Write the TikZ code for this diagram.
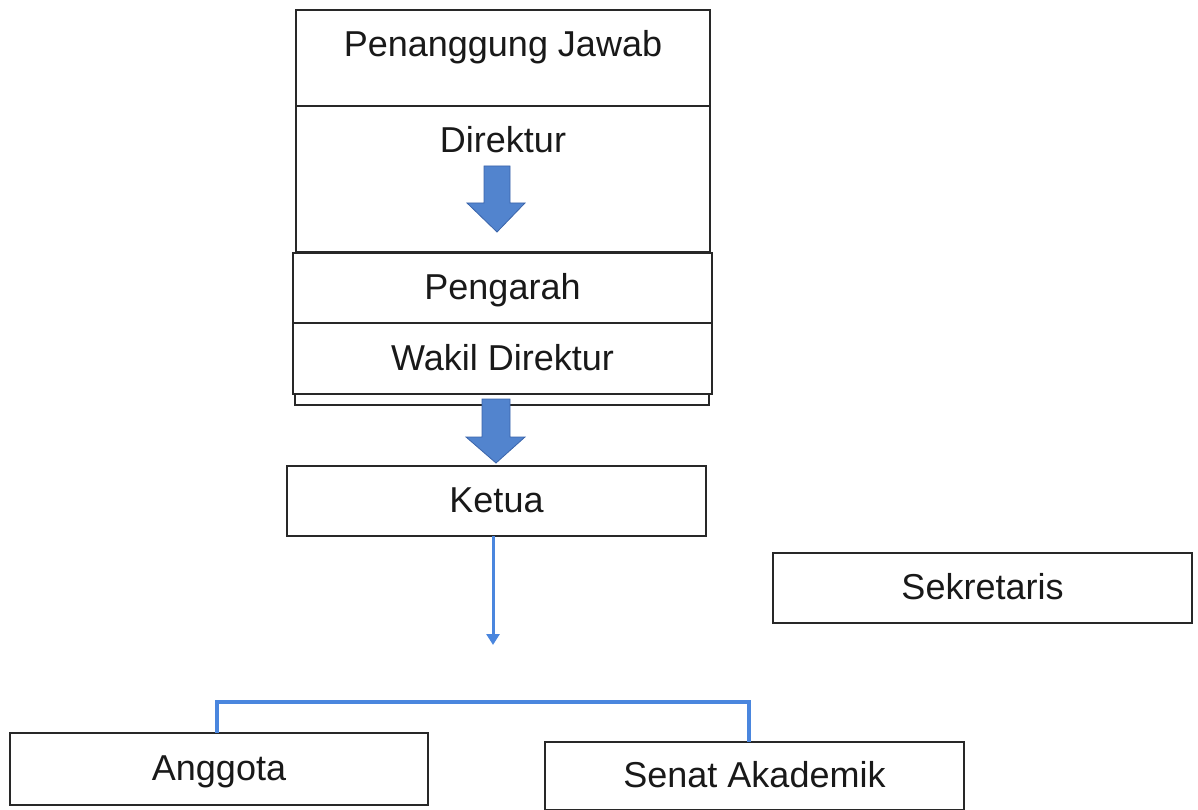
\documentclass[tikz,border=0pt]{standalone}
\usepackage{fontspec}
\setmainfont{Liberation Sans}
\usepackage{tikz}
\usetikzlibrary{arrows.meta}

\definecolor{linkblue}{RGB}{74,134,222}
\definecolor{fillblue}{RGB}{82,132,206}
\definecolor{edgeblue}{RGB}{58,100,170}
\definecolor{boxline}{RGB}{40,40,40}

\begin{document}
\begin{tikzpicture}[box/.style={draw=boxline, line width=2pt, fill=white, outer sep=0pt, inner ysep=0pt, text height=26pt, text depth=3pt, text=black!90, font=\fontsize{36}{40}\selectfont}, topbox/.style={box, inner ysep=21pt}, link/.style={draw=linkblue, line width=3pt}, blockarrow/.style={fill=fillblue, draw=edgeblue, line width=0.8pt, line join=miter}]
\useasboundingbox (0pt, 0pt) rectangle (1198pt, -810pt);
\draw (503.0pt, -58.0pt)node[topbox, minimum width=414pt, text depth=28pt](0){Penanggung Jawab};
\draw (503.0pt, -179.0pt)node[topbox, minimum width=414pt, text depth=78pt](1){Direktur};
\draw (502.0pt, -399.5pt)node[box, minimum width=414pt, minimum height=11pt, text height=0pt, text depth=0pt](4){};
\draw (502.5pt, -288.0pt)node[box, minimum width=419pt, minimum height=70pt](2){Pengarah};
\draw (502.5pt, -358.5pt)node[box, minimum width=419pt, minimum height=71pt](3){Wakil Direktur};
\draw (496.5pt, -501.0pt)node[box, minimum width=419pt, minimum height=70pt](5){Ketua};
\draw (982.5pt, -588.0pt)node[box, minimum width=419pt, minimum height=70pt](6){Sekretaris};
\draw (219.0pt, -769.0pt)node[box, minimum width=418pt, minimum height=72pt](7){Anggota};
\draw (754.5pt, -776.0pt)node[box, minimum width=419pt, minimum height=68pt](8){Senat Akademik};
\coordinate (k) at (493.0pt, -645.0pt);
\coordinate (bar) at (480.0pt, -702.0pt);
% block arrows
\draw[blockarrow] (484pt, -166pt) -- (510pt, -166pt) -- (510pt, -203pt) -- (525pt, -203pt) -- (497pt, -232pt) -- (467pt, -203pt) -- (484pt, -203pt) -- cycle;
\draw[blockarrow] (482pt, -399pt) -- (510pt, -399pt) -- (510pt, -437pt) -- (525pt, -437pt) -- (496pt, -463pt) -- (466pt, -437pt) -- (482pt, -437pt) -- cycle;
\draw[link, -{Triangle[width=13pt,length=11pt]}] (5.south -| k) -- (k);
\draw[link, line width=4pt] ([xshift=-2pt]7.north) |- (bar) -| ([xshift=-5.5pt]8.north);
\end{tikzpicture}
\end{document}
